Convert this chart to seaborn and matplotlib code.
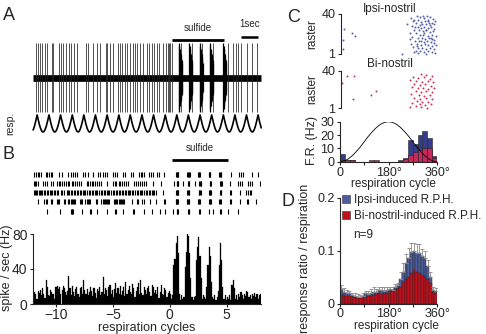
import numpy as np
import pandas as pd
import seaborn as sns
import matplotlib.pyplot as plt
from matplotlib.patches import Patch

sns.set_style("ticks")
plt.rcParams['font.family'] = ['Liberation Sans', 'DejaVu Sans']

# ---------------- data ----------------
# A: spike times (s), burst onsets during sulfide (s), respiration peaks (s)
spike_times = [0.24, 0.35, 0.47, 0.59, 0.76, 0.88, 1.18, 1.24, 1.59, 1.71, 1.82, 2.0,
               2.18, 2.29, 2.47, 2.65, 3.18, 3.29, 3.59, 3.82, 4.0, 4.35, 4.41, 4.59,
               4.76, 5.06, 5.18, 5.29, 5.47, 5.59, 5.76, 5.94, 6.06, 6.18, 6.35, 6.53,
               6.76, 6.88, 7.06, 7.18, 7.35, 7.47, 7.71, 7.88, 8.0, 8.06, 8.12, 8.24,
               8.76, 9.41, 10.0, 10.65, 11.53, 11.82, 12.0, 12.12, 12.29, 12.65, 12.94, 13.24]
burst_times = [8.65, 9.25, 9.88, 10.47, 11.25]
resp_peaks = [-0.38, 0.30, 1.0, 1.68, 2.37, 3.05, 3.73, 4.42, 5.11, 5.78, 6.47, 7.15,
              7.84, 8.52, 9.2, 9.89, 10.57, 11.26, 11.94, 12.62, 13.3, 13.98]
sulfide_a = (8.24, 11.29)
scale_a = (12.29, 13.29)

# B: raster rows (respiration cycles) and PSTH (0.1-cycle bins from -12 to 8)
row1 = [-11.9, -11.75, -11.6, -11.45, -11.3, -10.9, -10.75, -10.6, -10.45, -10.3, -9.7, -9.5,
        -8.9, -8.7, -8.5, -8.3, -8.1, -7.6, -7.4, -7.2, -6.7, -6.3, -6.1, -5.9, -5.7, -5.5,
        -5.0, -4.8, -4.6, -4.1, -3.9, -3.4, -3.2, -2.7, -2.55, -2.4, -2.25, -1.8, -1.65, -1.5,
        -1.1, -0.95, -0.5, 0.55, 0.6, 0.65, 0.7, 0.75, 1.55, 1.6, 1.65, 1.7, 1.75, 2.5, 2.55,
        2.6, 2.65, 3.4, 3.45, 3.5, 3.55, 4.35, 4.4, 4.45, 4.5, 5.4, 6.1, 6.25, 6.4, 7.2, 7.7]
row2 = [-11.95, -11.8, -11.7, -11.55, -11.1, -10.95, -10.8, -10.4, -10.25, -9.9, -9.75, -9.6,
        -9.45, -9.3, -9.1, -8.95, -8.8, -8.6, -8.45, -8.3, -8.1, -7.95, -7.8, -7.3, -7.15, -7.0,
        -6.85, -6.7, -6.55, -6.4, -6.2, -6.05, -5.5, -5.0, -4.85, -4.7, -4.5, -4.35, -4.2, -4.0,
        -3.85, -3.7, -3.1, -2.95, -2.8, -2.6, -2.45, -2.3, -2.1, -1.5, -0.8, 0.4, 0.6, 0.65,
        0.7, 0.75, 1.2, 1.6, 1.65, 1.7, 2.2, 2.6, 2.65, 2.7, 2.75, 3.5, 3.55, 3.6, 4.4, 4.45,
        4.5, 4.55, 5.3, 6.0, 6.15, 6.3, 6.9, 7.05, 7.2, 7.9]
row3 = [-11.95, -11.85, -11.75, -11.65, -11.5, -11.4, -11.3, -11.2, -11.05, -10.95, -10.8,
        -10.7, -10.55, -10.45, -10.35, -10.2, -10.1, -9.9, -9.8, -9.55, -9.45, -9.3, -9.0,
        -8.9, -8.8, -8.65, -8.55, -8.4, -8.3, -8.15, -8.05, -7.9, -7.8, -7.65, -7.5, -7.4,
        -7.25, -7.1, -7.0, -6.85, -6.75, -6.6, -6.45, -6.35, -6.2, -6.05, -5.95, -5.8, -5.65,
        -5.55, -5.4, -5.3, -5.15, -5.0, -4.9, -4.75, -4.6, -4.5, -4.35, -4.2, -4.1, -3.95,
        -3.85, -3.7, -3.55, -3.45, -3.3, -3.2, -3.05, -2.9, -2.8, -2.65, -2.5, -2.4, -2.25,
        -2.1, -2.0, -1.85, -1.75, -1.6, -1.5, -1.35, -1.2, -0.6, 0.55, 0.6, 0.65, 0.7, 0.75,
        1.55, 1.6, 1.65, 1.7, 2.55, 2.6, 2.65, 2.7, 3.45, 3.5, 3.55, 3.6, 4.4, 4.45, 4.5,
        5.3, 5.35, 6.2, 6.7, 6.85, 7.0, 7.15]
row4 = [-11.6, -11.0, -10.9, -10.8, -10.4, -10.3, -9.9, -9.8, -9.7, -9.3, -9.2, -8.9, -8.8,
        -8.7, -8.6, -8.5, -8.4, -8.3, -7.9, -7.8, -7.7, -7.4, -7.3, -7.2, -7.1, -7.0, -6.5,
        -6.4, -6.0, -5.9, -5.8, -5.7, -5.6, -5.5, -5.4, -5.3, -4.9, -4.8, -4.7, -4.6, -4.5,
        -4.4, -4.3, -4.2, -4.1, -4.0, -3.3, -2.9, -2.8, -2.4, -2.3, -1.7, -1.2, -0.5, -0.4,
        0.5, 0.55, 0.6, 0.65, 0.7, 1.5, 1.55, 1.6, 1.65, 1.7, 2.5, 2.55, 2.6, 2.65, 3.45, 3.5,
        3.55, 3.6, 4.35, 4.4, 4.45, 5.3, 5.35, 6.2, 6.8, 6.9, 7.6]
row5 = [-10.8, -9.6, -8.65, -8.6, -8.55, -8.5, -7.7, -7.0, -6.95, -6.4, -5.5, -4.8, -4.75,
        -4.1, -3.2, -3.15, -2.3, -1.6, -0.9, -0.4, 0.3, 0.6, 0.65, 0.7, 1.6, 1.65, 1.7, 2.6,
        2.65, 3.4, 3.8, 4.4, 4.45, 5.1, 6.0]
sulfide_b = (0.2, 5.1)
psth = [8, 14, 12, 6, 15, 13, 16, 10, 18, 12,
        7, 28, 20, 10, 9, 16, 14, 12, 6, 19,
        20, 21, 17, 19, 12, 16, 21, 18, 14, 10,
        15, 32, 18, 10, 21, 14, 9, 17, 19, 12,
        8, 18, 20, 11, 27, 16, 12, 17, 10, 14,
        20, 15, 9, 18, 13, 7, 17, 15, 20, 10,
        14, 31, 12, 18, 16, 9, 19, 22, 12, 16,
        8, 17, 24, 13, 18, 12, 21, 10, 15, 20,
        9, 25, 11, 16, 21, 14, 12, 23, 18, 8,
        15, 19, 24, 11, 27, 13, 10, 20, 16, 12,
        18, 21, 14, 9, 22, 20, 13, 16, 11, 19,
        7, 14, 22, 12, 10, 18, 16, 8, 13, 15,
        12, 6, 10, 45, 52, 70, 78, 58, 12, 5,
        10, 6, 8, 42, 60, 80, 78, 58, 30, 8,
        5, 8, 9, 50, 65, 77, 55, 30, 6, 10,
        8, 6, 20, 45, 65, 55, 25, 8, 6, 10,
        5, 8, 15, 45, 70, 50, 20, 6, 10, 5,
        8, 6, 10, 5, 22, 27, 18, 6, 10, 5,
        12, 8, 14, 10, 6, 12, 9, 15, 14, 8,
        10, 6, 12, 9, 13, 8, 11, 6, 10, 12]

# C: raster dots (phase deg, trial) and firing-rate histogram (18 deg bins)
ipsi_phase = [262, 270, 285, 296, 310, 322, 335, 344, 352, 275, 290, 300, 316, 328, 340, 280,
              295, 305, 318, 332, 348, 265, 287, 300, 312, 325, 338, 350, 272, 292, 306, 320,
              333, 345, 260, 282, 298, 313, 327, 340, 355, 268, 288, 303, 316, 330, 343, 276,
              294, 310, 322, 336, 350, 262, 284, 300, 315, 328, 342, 356, 270, 290, 305, 320,
              334, 348, 280, 296, 312, 326, 340, 352, 288, 318, 308, 330, 278, 318, 258, 350,
              308, 285, 338, 300, 325, 272, 248, 230, 10, 8, 6, 43, 52]
ipsi_trial = [36, 33, 38, 37, 36, 38, 37, 35, 33, 34, 34, 32, 33, 34, 31, 31, 29, 30, 30, 29,
              30, 28, 27, 26, 27, 26, 27, 25, 24, 24, 23, 24, 22, 23, 21, 21, 20, 21, 19, 20,
              19, 18, 17, 17, 16, 17, 16, 14, 14, 13, 14, 13, 12, 11, 11, 10, 11, 10, 9, 10,
              8, 7, 7, 6, 7, 6, 4, 4, 3, 4, 3, 2, 2, 1, 38, 31, 27, 24, 16, 15, 20, 9, 17, 14,
              33, 3, 30, 1, 25, 15, 6, 21, 19]
bi_phase = [2, 22, 47, 44, 130, 111, 300, 320, 340, 270, 290, 312, 332, 258, 282, 305, 325,
            345, 272, 295, 315, 338, 265, 288, 308, 328, 350, 280, 300, 320, 342, 262, 292,
            312, 332, 275, 298, 318, 340, 285, 305, 326, 268, 295, 315, 338, 258, 280, 300, 322]
bi_trial = [27, 35, 35, 11, 19, 15, 37, 36, 35, 33, 32, 33, 31, 30, 29, 28, 29, 28, 26, 25,
            26, 24, 23, 22, 22, 21, 22, 19, 18, 19, 18, 16, 15, 14, 15, 12, 11, 12, 11, 9, 8,
            8, 6, 5, 4, 5, 2, 3, 2, 1]
fr_ipsi = [5.5, 1, 1, 0, 0, 0, 0, 0, 0, 0, 0, 0, 1, 3, 16, 13, 20, 23, 18, 4]
fr_bi = [1, 1, 1, 0, 0, 0, 1, 1, 0, 0, 0, 0, 0, 1.8, 5, 7, 9, 10, 10.5, 3]
resp_deg = [0, 15, 30, 45, 60, 75, 90, 105, 120, 135, 150, 165, 180,
            195, 210, 225, 240, 255, 270, 285, 300, 315, 330, 345, 360]
resp_hz = [0, 0.5, 2, 4.4, 7.5, 11, 15, 19, 22.5, 25.6, 28, 29.5, 30,
           29.5, 28, 25.6, 22.5, 19, 15, 11, 7.5, 4.4, 2, 0.5, 0]

# D: mean response ratio (10 deg bins) and upper SEM
rph_ipsi = [0.027, 0.022, 0.020, 0.019, 0.016, 0.015, 0.013, 0.012, 0.014, 0.019, 0.018, 0.020,
            0.022, 0.022, 0.025, 0.026, 0.024, 0.025, 0.027, 0.026, 0.031, 0.035, 0.047, 0.060,
            0.076, 0.085, 0.098, 0.100, 0.095, 0.096, 0.089, 0.085, 0.070, 0.050, 0.025, 0.023]
rph_bi = [0.016, 0.015, 0.015, 0.015, 0.013, 0.013, 0.011, 0.011, 0.012, 0.013, 0.014, 0.015,
          0.016, 0.018, 0.019, 0.018, 0.019, 0.020, 0.023, 0.025, 0.027, 0.029, 0.032, 0.041,
          0.046, 0.050, 0.057, 0.063, 0.060, 0.058, 0.054, 0.050, 0.047, 0.038, 0.022, 0.020]
rph_err = [0.008, 0.007, 0.005, 0.005, 0.004, 0.004, 0.004, 0.004, 0.005, 0.005, 0.005, 0.007,
           0.009, 0.006, 0.007, 0.006, 0.007, 0.006, 0.005, 0.006, 0.005, 0.004, 0.013, 0.016,
           0.018, 0.019, 0.016, 0.015, 0.017, 0.016, 0.014, 0.014, 0.013, 0.010, 0.006, 0.006]

BLUE_DOT, RED_DOT = '#5560b0', '#cc3350'
BLUE_C, RED_C = '#333d8c', '#c8285a'
BLUE_D, RED_D = '#4b5d9c', '#c0101e'

# ---------------- figure ----------------
W, H = 486, 334
fig = plt.figure(figsize=(W / 100, H / 100), dpi=100)


def box(l, t, r, b):
    return fig.add_axes([l / W, 1 - b / H, (r - l) / W, (b - t) / H])


def txt(x, y, s, **kw):
    kw.setdefault('ha', 'center')
    kw.setdefault('va', 'center')
    fig.text(x / W, 1 - y / H, s, **kw)


def only_left_bottom(ax, bottom=True):
    sns.despine(ax=ax, top=True, right=True, bottom=not bottom)
    for s in ax.spines.values():
        s.set_linewidth(0.8)
    ax.tick_params(direction='out', length=2.5, width=0.8, labelsize=9, pad=1.5)


def weighted_hist(ax, values, lo, hi, step, **kw):
    edges = [lo + step * i for i in range(int(round((hi - lo) / step)) + 1)]
    df = pd.DataFrame({'x': [e + step / 2 for e in edges[:-1]], 'w': values})
    sns.histplot(data=df, x='x', weights='w', bins=edges, alpha=1, ax=ax, **kw)
    ax.set_xlabel('')
    ax.set_ylabel('')


# ---- panel A ----
axA = box(30, 20, 264, 135)
axA.set_xlim(-0.118, 13.65)
axA.set_ylim(-1.69, 1.69)
axA.axis('off')
axA.hlines(0, 0.05, 13.5, color='black', lw=4.8)
axA.vlines(spike_times, -1, 1, color='#222222', lw=0.55)
for b in burst_times:
    for k in range(8):
        amp = 1 - 0.08 * k
        axA.vlines(b + 0.025 * k, -amp, amp, color='black', lw=0.9)
# respiration trace drawn through the read peak times
rt, ry = [], []
for p0, p1 in zip(resp_peaks[:-1], resp_peaks[1:]):
    u = np.linspace(0, 1, 30)
    rt.extend(p0 + u * (p1 - p0))
    ry.extend(-1.10 - 0.50 * np.sin(np.pi * u))
rt, ry = np.array(rt), np.array(ry)
keep = (rt >= 0.05) & (rt <= 13.5)
sns.lineplot(x=rt[keep], y=ry[keep], ax=axA, color='black', lw=1.2, sort=False, estimator=None)
axA.set_xlabel('')
axA.set_ylabel('')
axA.hlines(1.10, *sulfide_a, color='black', lw=2.0)
axA.text(np.mean(sulfide_a), 1.31, 'sulfide', ha='center', va='bottom', fontsize=7)
axA.hlines(1.19, *scale_a, color='black', lw=1.8)
axA.text(np.mean(scale_a), 1.43, '1sec', ha='center', va='bottom', fontsize=7)
txt(10, 123, 'resp.', rotation=90, fontsize=7.5)

# ---- panel B raster ----
axR = box(33, 145, 261, 216)
axR.set_xlim(-12, 8)
axR.set_ylim(5.54, -2.14)
axR.axis('off')
for i, row in enumerate([row1, row2, row3, row4, row5], start=1):
    axR.vlines(row, i - 0.27, i + 0.27, color='black', lw=0.8)
axR.hlines(-0.51, *sulfide_b, color='black', lw=2.0)
axR.text(np.mean(sulfide_b), -1.3, 'sulfide', ha='center', va='bottom', fontsize=7)

# ---- panel B PSTH ----
axP = box(33, 234, 261, 304)
weighted_hist(axP, psth, -12, 8, 0.1, color='black', edgecolor='black', linewidth=0.2)
axP.set_xlim(-12, 8)
axP.set_ylim(0, 80)
axP.set_yticks([0, 40, 80])
axP.set_xticks([-10, -5, 0, 5])
only_left_bottom(axP)
axP.tick_params(labelsize=10)
axP.tick_params(axis='x', pad=0.5)
txt(7, 268, 'spike / sec (Hz)', rotation=90, fontsize=9)
txt(147, 328.5, 'respiration cycles', fontsize=9)

# ---- panel C rasters ----
for (top, bot, ph, tr, col, title, ty) in [
        (14, 54, ipsi_phase, ipsi_trial, BLUE_DOT, 'Ipsi-nostril', 9),
        (70.7, 108.3, bi_phase, bi_trial, RED_DOT, 'Bi-nostril', 64)]:
    ax = box(341, top, 437, bot)
    sns.scatterplot(x=ph, y=tr, color=col, s=2, linewidth=0, ax=ax, clip_on=False)
    ax.set_xlim(0, 360)
    ax.set_ylim(1, 40)
    ax.set_yticks([1, 40])
    ax.set_xticks([])
    ax.set_xlabel('')
    ax.set_ylabel('')
    only_left_bottom(ax, bottom=False)
    txt(312, (top + bot) / 2, 'raster', rotation=90, fontsize=8.5)
    txt(390, ty, title, fontsize=8.5)

# ---- panel C histogram ----
axH = box(340, 121.7, 437, 161.7)
weighted_hist(axH, fr_ipsi, 0, 360, 18, color=BLUE_C, edgecolor='#222222', linewidth=0.4)
weighted_hist(axH, fr_bi, 0, 360, 18, color=RED_C, edgecolor='#222222', linewidth=0.4)
sns.lineplot(x=resp_deg, y=resp_hz, ax=axH, color='black', lw=0.6)
axH.set_xlim(0, 360)
axH.set_ylim(0, 30)
axH.set_yticks([0, 10, 20, 30])
axH.set_xticks([0, 90, 180, 270, 360])
axH.set_xticklabels(['0', '', '180°', '', '360°'])
axH.set_xlabel('')
axH.set_ylabel('')
only_left_bottom(axH)
axH.tick_params(axis='x', pad=1)
txt(312, 141, 'F.R. (Hz)', rotation=90, fontsize=9)
txt(393, 183.5, 'respiration cycle', fontsize=8.5)

# ---- panel D ----
axD = box(340, 197.5, 437, 303.5)
cent_d = [5 + 10 * i for i in range(36)]
weighted_hist(axD, rph_ipsi, 0, 360, 10, color=BLUE_D, edgecolor='#222222', linewidth=0.3)
axD.errorbar(cent_d, rph_ipsi, yerr=[[0] * len(rph_err), rph_err], fmt='none',
             ecolor='#8a8a8a', elinewidth=0.6, capsize=1.6, capthick=0.6)
weighted_hist(axD, rph_bi, 0, 360, 10, color=RED_D, edgecolor='#222222', linewidth=0.3)
axD.set_xlim(0, 360)
axD.set_ylim(0, 0.2)
axD.set_yticks([0, 0.1, 0.2])
axD.set_yticklabels(['0', '0.1', '0.2'])
axD.set_xticks([0, 90, 180, 270, 360])
axD.set_xticklabels(['0', '', '180°', '', '360°'])
only_left_bottom(axD)
axD.tick_params(axis='x', pad=1)
axD.legend(handles=[Patch(facecolor=BLUE_D, edgecolor='#333333', lw=0.4),
                    Patch(facecolor=RED_D, edgecolor='#333333', lw=0.4)],
           labels=['Ipsi-induced R.P.H.', 'Bi-nostril-induced R.P.H.'],
           loc='upper left', bbox_to_anchor=(0.02, 1.03), frameon=False, fontsize=8.5,
           handlelength=0.7, handleheight=0.7, handletextpad=0.35, labelspacing=0.3,
           borderpad=0, borderaxespad=0)
txt(353, 235, 'n=9', ha='left', fontsize=8.5)
txt(305, 258, 'response ratio / respiration', rotation=90, fontsize=9)
txt(396, 326, 'respiration cycle', fontsize=8.5)

# panel letters
for s, x, y in [('A', 9, 16), ('B', 9, 155), ('C', 294, 17), ('D', 288, 202)]:
    txt(x, y, s, fontsize=13)

fig.savefig('out.png', dpi=100)
